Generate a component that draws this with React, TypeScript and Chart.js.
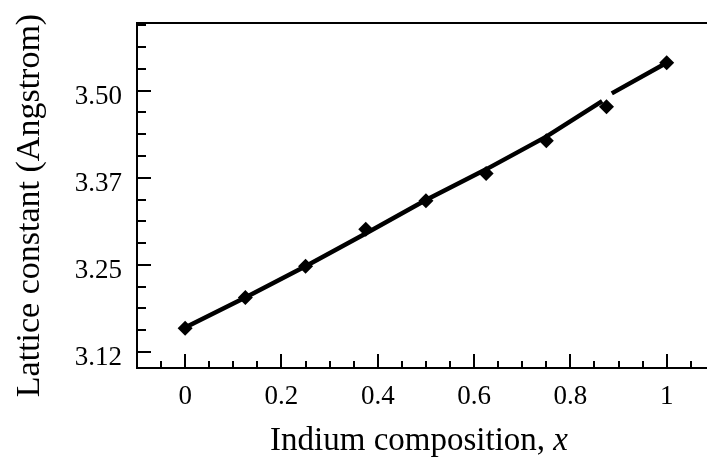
import React, { useEffect, useRef } from "react";
import { Chart, registerables } from "chart.js";

Chart.register(...registerables);

// Data
const compositionX = [0, 0.125, 0.25, 0.375, 0.5, 0.625, 0.75, 0.875, 1];
const latticeValues = [3.159, 3.203, 3.248, 3.301, 3.342, 3.381, 3.428, 3.477, 3.54];

// Fitted (drawn) line, with a small gap near x = 0.875
const fitX = [0, 0.125, 0.25, 0.375, 0.5, 0.625, 0.75, 0.866, 0.876, 0.886, 1];
const fitValues = [3.16, 3.203, 3.248, 3.295, 3.343, 3.387, 3.434, 3.485, null, 3.496, 3.54];

// Axes
const xTickValues = [0, 0.2, 0.4, 0.6, 0.8, 1];
const xTickLabels = ["0", "0.2", "0.4", "0.6", "0.8", "1"];
const xMinorStep = 0.05;
const yTickValues = [3.125, 3.25, 3.375, 3.5];
const yTickLabels = ["3.12", "3.25", "3.37", "3.50"];
const yMinorStep = 0.03125;

const xTitleMain = "Indium composition, ";
const xTitleVar = "x";
const yTitle = "Lattice constant (Angstrom)";

const X_MIN = -0.1;
const X_MAX = 1.0837;
const Y_MIN = 3.102;
const Y_MAX = 3.597;

const FONT = "'Liberation Serif', 'Times New Roman', serif";

const zeroPad = (s: any) => {
  s.paddingTop = 0;
  s.paddingBottom = 0;
  s.paddingLeft = 0;
  s.paddingRight = 0;
};

const innerTicks = {
  id: "innerTicks",
  afterDraw(chart: any) {
    const { ctx, chartArea, scales } = chart;
    const xs = scales.x;
    const ys = scales.y;
    ctx.save();
    ctx.strokeStyle = "#000";
    ctx.lineWidth = 2;
    ctx.beginPath();
    for (let v = -0.05; v <= X_MAX + 1e-9; v += xMinorStep) {
      const val = Math.round(v * 100) / 100;
      const isMajor = xTickValues.some((t) => Math.abs(t - val) < 1e-6);
      const len = isMajor ? 14 : 7;
      const px = Math.round(xs.getPixelForValue(val));
      ctx.moveTo(px, chartArea.bottom);
      ctx.lineTo(px, chartArea.bottom - len);
    }
    for (let v = yTickValues[0]; v <= Y_MAX + 1e-9; v += yMinorStep) {
      const isMajor = yTickValues.some((t) => Math.abs(t - v) < 1e-6);
      const len = isMajor ? 14 : 9;
      const py = Math.round(ys.getPixelForValue(v));
      ctx.moveTo(chartArea.left, py);
      ctx.lineTo(chartArea.left + len, py);
    }
    ctx.stroke();
    ctx.restore();
  },
};

// Axis titles (x title has an italic variable)
const axisTitles = {
  id: "axisTitles",
  afterDraw(chart: any) {
    const { ctx, chartArea } = chart;
    ctx.save();
    ctx.fillStyle = "#000";
    ctx.textBaseline = "alphabetic";
    const normal = `33px ${FONT}`;
    const italic = `italic 33px ${FONT}`;
    ctx.font = normal;
    const w1 = ctx.measureText(xTitleMain).width;
    ctx.font = italic;
    const w2 = ctx.measureText(xTitleVar).width;
    const cx = (chartArea.left + chartArea.right) / 2 - 3;
    const startX = cx - (w1 + w2) / 2;
    const baseY = chartArea.bottom + 82;
    ctx.textAlign = "left";
    ctx.font = normal;
    ctx.fillText(xTitleMain, startX, baseY);
    ctx.font = italic;
    ctx.fillText(xTitleVar, startX + w1, baseY);
    ctx.font = `34px ${FONT}`;
    ctx.textAlign = "center";
    ctx.textBaseline = "middle";
    ctx.translate(30, (chartArea.top + chartArea.bottom) / 2 + 10);
    ctx.rotate(-Math.PI / 2);
    ctx.fillText(yTitle, 0, 0);
    ctx.restore();
  },
};

export default function App() {
  const canvasRef = useRef<HTMLCanvasElement | null>(null);

  useEffect(() => {
    const canvas = canvasRef.current;
    if (!canvas) return;
    const chart = new Chart(canvas, {
      type: "scatter",
      data: {
        datasets: [
          {
            label: "points",
            data: compositionX.map((x, i) => ({ x, y: latticeValues[i] })),
            pointStyle: "rectRot",
            pointRadius: 7.5,
            backgroundColor: "#000",
            borderColor: "#000",
            borderWidth: 0,
            showLine: false,
            order: 0,
          },
          {
            label: "fit",
            data: fitX.map((x, i) => ({ x, y: fitValues[i] as any })),
            showLine: true,
            spanGaps: false,
            borderColor: "#000",
            borderWidth: 4.5,
            pointRadius: 0,
            tension: 0,
            order: 1,
          },
        ],
      },
      options: {
        animation: false,
        responsive: false,
        maintainAspectRatio: false,
        layout: { padding: 0, autoPadding: false },
        plugins: {
          legend: { display: false },
          tooltip: { enabled: false },
        },
        scales: {
          x: {
            type: "linear",
            position: "bottom",
            min: X_MIN,
            max: X_MAX,
            afterFit(s: any) {
              s.height = 94;
              zeroPad(s);
            },
            afterBuildTicks(s: any) {
              s.ticks = xTickValues.map((v) => ({ value: v }));
            },
            ticks: {
              callback: (_v: any, i: number) => xTickLabels[i],
              font: { family: FONT, size: 27 },
              color: "#000",
              padding: 13,
              maxRotation: 0,
              autoSkip: false,
            },
            grid: { display: false, drawTicks: false },
            border: { display: true, color: "#000", width: 2 },
            title: { display: false },
          },
          xTop: {
            type: "linear",
            position: "top",
            min: X_MIN,
            max: X_MAX,
            afterFit(s: any) {
              s.height = 23;
              zeroPad(s);
            },
            ticks: { display: false },
            grid: { display: false, drawTicks: false },
            border: { display: true, color: "#000", width: 2 },
          },
          y: {
            type: "linear",
            position: "left",
            min: Y_MIN,
            max: Y_MAX,
            afterFit(s: any) {
              s.width = 137;
              zeroPad(s);
            },
            afterBuildTicks(s: any) {
              s.ticks = yTickValues.map((v) => ({ value: v }));
            },
            ticks: {
              callback: (_v: any, i: number) => yTickLabels[i],
              font: { family: FONT, size: 27 },
              color: "#000",
              padding: 15,
              labelOffset: 6,
              autoSkip: false,
            },
            grid: { display: false, drawTicks: false },
            border: { display: true, color: "#000", width: 2 },
            title: { display: false },
          },
        },
      },
      plugins: [innerTicks, axisTitles],
    });
    return () => chart.destroy();
  }, []);

  return (
    <div style={{ position: "absolute", left: 0, top: 0, width: 707, height: 462, background: "#fff" }}>
      <canvas ref={canvasRef} width={707} height={462} />
    </div>
  );
}
